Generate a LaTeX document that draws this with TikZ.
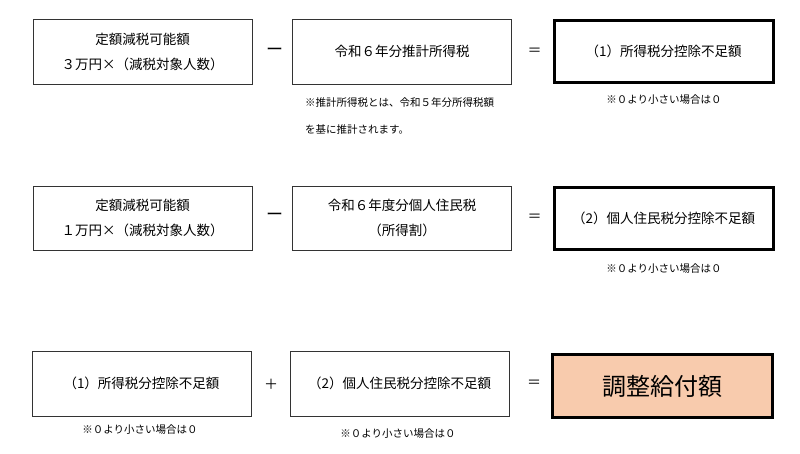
\documentclass[tikz,border=0pt]{standalone}
\usepackage{fontspec}
\setmainfont{Noto Sans CJK JP}
\definecolor{peach}{HTML}{F8CBAD}
\definecolor{boxline}{HTML}{333333}
\begin{document}
\begin{tikzpicture}[x=1pt,y=-1pt,
  box/.style={draw=boxline,line width=0.9pt,rectangle,minimum width=219pt,minimum height=65pt,inner sep=0pt,align=center,font=\fontsize{13.5}{25}\selectfont},
  resbox/.style={box,draw=black,line width=3pt,minimum width=219pt,minimum height=62pt},
  op/.style={inner sep=0pt,font=\fontsize{14}{16}\selectfont},
  minusop/.style={inner sep=0pt,font=\fontsize{17}{18}\selectfont},
  note/.style={inner sep=0pt,font=\fontsize{10.5}{12}\selectfont}]
\useasboundingbox (0,0) rectangle (800,453);
% Row 1
\node[box] (a1) at (142.5,51.5) {定額減税可能額\\３万円×（減税対象人数）};
\node[box] (b1) at (402,51.5) {令和６年分推計所得税};
\node[resbox] (c1) at (663.5,51.5) {（1）所得税分控除不足額};
\node[minusop] (m1) at (274.5,52) {ー};
\node[op] (e1) at (534.5,52) {＝};
\node[note,anchor=west] (nb1) at (305,103) {※推計所得税とは、令和５年分所得税額};
\node[note,anchor=west] (nb2) at (305,129) {を基に推計されます。};
\node[note] (nc1) at (664,100) {※０より小さい場合は０};
% Row 2
\node[box,minimum height=64pt] (a2) at (142.5,218) {定額減税可能額\\１万円×（減税対象人数）};
\node[box,minimum height=64pt] (b2) at (402,218) {令和６年度分個人住民税\\（所得割）};
\node[resbox] (c2) at (663.5,218) {（2）個人住民税分控除不足額};
\node[minusop] (m2) at (274.5,217) {ー};
\node[op] (e2) at (534.5,218) {＝};
\node[note] (nc2) at (664,269) {※０より小さい場合は０};
% Row 3
\node[box] (a3) at (141.5,383.5) {（1）所得税分控除不足額};
\node[box] (b3) at (399.5,383.5) {（2）個人住民税分控除不足額};
\node[resbox,fill=peach,minimum width=220pt,minimum height=63pt,font=\fontsize{24}{28}\selectfont] (c3) at (662,386) {調整給付額};
\node[op] (p3) at (271,384) {＋};
\node[op] (e3) at (534,384) {＝};
\node[note] (na3) at (140,430) {※０より小さい場合は０};
\node[note] (nb3) at (398,434) {※０より小さい場合は０};
\end{tikzpicture}
\end{document}
